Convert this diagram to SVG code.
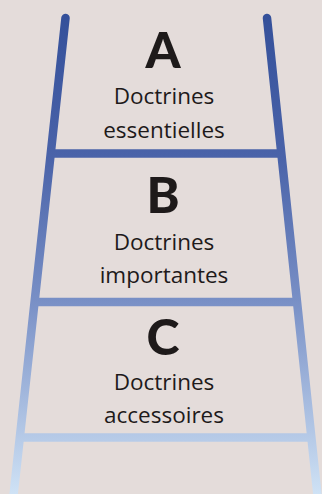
<svg xmlns="http://www.w3.org/2000/svg" width="322" height="494" viewBox="0 0 322 494">
<defs>
<linearGradient id="g" gradientUnits="userSpaceOnUse" x1="0" y1="14" x2="0" y2="494">
<stop offset="0" stop-color="#34509a"/>
<stop offset="0.3" stop-color="#4a63a9"/>
<stop offset="0.6" stop-color="#7990c6"/>
<stop offset="1" stop-color="#cfe2f5"/>
</linearGradient>
<style>
.r{stroke:url(#g);stroke-width:8.5;fill:none}
.L{font-family:Lato,"Open Sans","DejaVu Sans",sans-serif;font-weight:900;font-size:50px;fill:#1e1a1a;text-anchor:middle}
.t{font-family:"Open Sans","Liberation Sans",sans-serif;font-size:22.5px;fill:#1e1a1a;text-anchor:middle}
</style>
</defs>
<rect width="322" height="494" fill="#e4dcda"/>
<g id="connectors">
<line class="r" x1="65.5" y1="18" x2="13" y2="500" stroke-linecap="round"/>
<line class="r" x1="267" y1="18" x2="318" y2="500" stroke-linecap="round"/>
<line class="r" x1="52" y1="153.5" x2="280" y2="153.5"/>
<line class="r" x1="37" y1="302" x2="295" y2="302"/>
<line class="r" x1="23" y1="437.5" x2="309" y2="437.5"/>
</g>
<g id="nodeA">
<text class="L" x="163" y="68">A</text>
<text class="t" x="164" y="104">Doctrines</text>
<text class="t" x="164" y="138">essentielles</text>
</g>
<g id="nodeB">
<text class="L" x="163" y="213">B</text>
<text class="t" x="164" y="250">Doctrines</text>
<text class="t" x="164" y="283">importantes</text>
</g>
<g id="nodeC">
<text class="L" x="163" y="355">C</text>
<text class="t" x="164" y="390">Doctrines</text>
<text class="t" x="164" y="423">accessoires</text>
</g>
</svg>
